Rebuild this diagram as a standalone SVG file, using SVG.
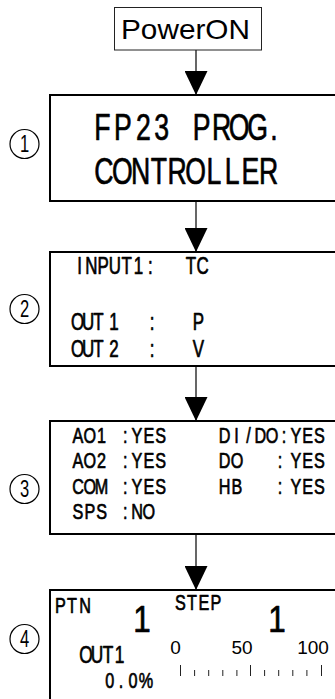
<svg xmlns="http://www.w3.org/2000/svg" width="335" height="699" viewBox="0 0 335 699">
<style>
.t{font-family:"Liberation Sans",Arial,sans-serif;fill:#000}
.m{font-family:"Liberation Sans",Arial,sans-serif;fill:#000;text-anchor:middle}
.b{stroke:#000;stroke-width:0.7;stroke-linejoin:round}
.box{fill:#fff;stroke:#000;stroke-width:2}
.cir{fill:none;stroke:#000;stroke-width:1.2}
.con{stroke:#000;stroke-width:1.2;fill:none}
.tick{stroke:#222;stroke-width:1}
</style>
<defs>
<marker id="ah" markerUnits="userSpaceOnUse" markerWidth="24" markerHeight="23" refX="24" refY="11.5" orient="auto" viewBox="0 0 24 23"><path d="M0,0 L24,11.5 L0,23 z" fill="#000"/></marker>
</defs>
<rect width="335" height="699" fill="#fff"/>

<g id="connectors">
<line class="con" x1="196" y1="50" x2="196" y2="95" marker-end="url(#ah)"/>
<line class="con" x1="196" y1="201" x2="196" y2="252" marker-end="url(#ah)"/>
<line class="con" x1="196" y1="366" x2="196" y2="421" marker-end="url(#ah)"/>
<line class="con" x1="196" y1="534" x2="196" y2="590" marker-end="url(#ah)"/>
</g>

<g id="power">
<rect x="114.5" y="7.5" width="147" height="42.5" fill="#fff" stroke="#222" stroke-width="1"/>
<text class="t" x="121" y="39" font-size="28" textLength="129" lengthAdjust="spacingAndGlyphs">PowerON</text>
</g>

<g id="n1">
<rect class="box" x="50" y="95" width="300" height="106"/>
<text class="m b" font-size="37" transform="scale(0.72,1)" x="142.36 170.83 199.31 224.58 280.14 307.92 331.94 357.64 380.56" y="140">FP23PROG.</text>
<text class="m b" font-size="37" transform="scale(0.72,1)" x="144.44 169.86 195.28 220.69 246.11 271.53 296.94 322.36 347.78 373.19" y="184">CONTROLLER</text>
</g>

<g id="n2">
<rect class="box" x="50" y="252" width="300" height="114"/>
<text class="m b" font-size="23.5" transform="scale(0.72,1)" x="110.42 126.81 143.19 159.58 175.97 192.36 208.75" y="274">INPUT1:</text>
<text class="m b" font-size="23.5" transform="scale(0.72,1)" x="265.28 281.25" y="274">TC</text>
<text class="m b" font-size="23.5" transform="scale(0.72,1)" x="107.64 122.22 136.81 158.33 211.11 275.69" y="330">OUT1:P</text>
<text class="m b" font-size="23.5" transform="scale(0.72,1)" x="107.64 122.22 136.81 158.33 211.11 275.69" y="357">OUT2:V</text>
</g>

<g id="n3">
<rect class="box" x="50" y="421" width="300" height="113"/>
<text class="m b" font-size="22.5" transform="scale(0.72,1)" x="108.33 124.72 141.11 173.89 190.28 206.67 223.06" y="443">AO1:YES</text>
<text class="m b" font-size="22.5" transform="scale(0.72,1)" x="312.08 328.54 345 361.46 377.92 394.38 410.83 427.29 443.75" y="443">DI/DO:YES</text>
<text class="m b" font-size="22.5" transform="scale(0.72,1)" x="108.33 124.72 141.11 173.89 190.28 206.67 223.06" y="468">AO2:YES</text>
<text class="m b" font-size="22.5" transform="scale(0.72,1)" x="312.08 329.17 388.89 410.83 427.29 443.75" y="468">DO:YES</text>
<text class="m b" font-size="22.5" transform="scale(0.72,1)" x="108.33 124.72 141.11 173.89 190.28 206.67 223.06" y="494">COM:YES</text>
<text class="m b" font-size="22.5" transform="scale(0.72,1)" x="312.08 329.17 388.89 410.83 427.29 443.75" y="494">HB:YES</text>
<text class="m b" font-size="22.5" transform="scale(0.72,1)" x="108.33 124.72 141.11 173.89 190.28 206.67" y="519">SPS:NO</text>
</g>

<g id="n4">
<rect class="box" x="50" y="590" width="300" height="120"/>
<text class="m b" font-size="22.5" transform="scale(0.72,1)" x="84.03 100 118.06" y="613">PTN</text>
<text class="m b" font-size="37" transform="scale(0.85,1)" x="167.06" y="632">1</text>
<text class="m b" font-size="22.5" transform="scale(0.72,1)" x="250.42 266.67 283.33 300" y="610">STEP</text>
<text class="m b" font-size="37" transform="scale(0.85,1)" x="325.88" y="632.5">1</text>
<text class="m b" font-size="24" transform="scale(0.72,1)" x="119.44 134.72 150 165.97" y="663">OUT1</text>
<text class="m b" font-size="22.5" transform="scale(0.72,1)" x="152.36 168.06 184.72 202.78" y="688">0.0%</text>
<text class="m" font-size="19" x="175.5" y="654">0</text>
<text class="m" font-size="19" x="242" y="654">50</text>
<text class="m" font-size="19" x="313" y="654">100</text>
<g class="tick">
<line x1="180.5" y1="665" x2="180.5" y2="676"/>
<line x1="194.6" y1="670" x2="194.6" y2="676"/>
<line x1="208.7" y1="670" x2="208.7" y2="676"/>
<line x1="222.8" y1="670" x2="222.8" y2="676"/>
<line x1="236.9" y1="670" x2="236.9" y2="676"/>
<line x1="250.5" y1="665" x2="250.5" y2="676"/>
<line x1="264.6" y1="670" x2="264.6" y2="676"/>
<line x1="278.7" y1="670" x2="278.7" y2="676"/>
<line x1="292.8" y1="670" x2="292.8" y2="676"/>
<line x1="306.9" y1="670" x2="306.9" y2="676"/>
<line x1="321.5" y1="665" x2="321.5" y2="676"/>
</g>
</g>

<g id="step1"><circle class="cir" cx="24.5" cy="144" r="14.5"/><text class="m" font-size="23" transform="scale(0.72,1)" x="34.03" y="152">1</text></g>
<g id="step2"><circle class="cir" cx="24.5" cy="309" r="14.5"/><text class="m" font-size="23" transform="scale(0.72,1)" x="34.03" y="317">2</text></g>
<g id="step3"><circle class="cir" cx="24.5" cy="489" r="14.5"/><text class="m" font-size="23" transform="scale(0.72,1)" x="34.03" y="497">3</text></g>
<g id="step4"><circle class="cir" cx="24.5" cy="639" r="14.5"/><text class="m" font-size="23" transform="scale(0.72,1)" x="34.03" y="647">4</text></g>
</svg>
